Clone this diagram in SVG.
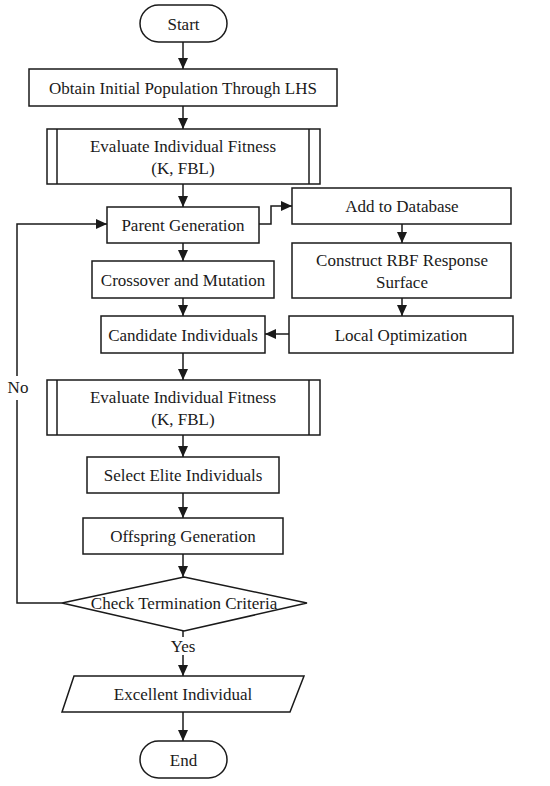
<svg xmlns="http://www.w3.org/2000/svg" width="550" height="786" viewBox="0 0 550 786">
<defs>
<marker id="arr" markerUnits="userSpaceOnUse" markerWidth="12" markerHeight="10" refX="11" refY="5" orient="auto">
<path d="M0,0 L11,5 L0,10 Z" fill="#1a1a1a"/>
</marker>
<style>
.n{fill:#fff;stroke:#1a1a1a;stroke-width:1.5}
.t{font-family:"Liberation Serif","Times New Roman",serif;font-size:17px;fill:#1a1a1a;text-anchor:middle}
.c{fill:none;stroke:#1a1a1a;stroke-width:1.5}
.c line,.c path{marker-end:url(#arr)}
</style>
</defs>
<rect width="550" height="786" fill="#fff"/>
<g id="connectors" class="c">
<line x1="183" y1="42" x2="183" y2="69"/>
<line x1="183" y1="106" x2="183" y2="129"/>
<line x1="183" y1="184" x2="183" y2="207"/>
<line x1="183" y1="243" x2="183" y2="261"/>
<line x1="183" y1="298" x2="183" y2="316"/>
<line x1="183" y1="353" x2="183" y2="380"/>
<line x1="183" y1="435" x2="183" y2="457"/>
<line x1="183" y1="493" x2="183" y2="518"/>
<line x1="183" y1="554" x2="183" y2="577"/>
<line x1="183" y1="631" x2="183" y2="676"/>
<line x1="183" y1="712" x2="183" y2="741"/>
<path d="M259,224 H271 V206 H292"/>
<line x1="402" y1="224" x2="402" y2="243"/>
<line x1="402" y1="298" x2="402" y2="316"/>
<line x1="289" y1="334" x2="265" y2="334"/>
<path d="M62,603 H17 V224 H107"/>
<rect x="5" y="376" width="25" height="24" fill="#fff" stroke="none"/>
<rect x="168" y="637" width="30" height="18" fill="#fff" stroke="none"/>
</g>
<g id="start"><rect class="n" x="140" y="5" width="87" height="37" rx="18.5"/><text class="t" x="183.5" y="29.5">Start</text></g>
<g id="obtain"><rect class="n" x="29" y="69" width="308" height="37"/><text class="t" x="183" y="93.5">Obtain Initial Population Through LHS</text></g>
<g id="eval1"><rect class="n" x="47" y="129" width="273" height="55"/><line class="n" x1="57" y1="129" x2="57" y2="184"/><line class="n" x1="309" y1="129" x2="309" y2="184"/><text class="t" x="183" y="152">Evaluate Individual Fitness</text><text class="t" x="183" y="174">(K, FBL)</text></g>
<g id="parent"><rect class="n" x="107" y="207" width="152" height="36"/><text class="t" x="183" y="231">Parent Generation</text></g>
<g id="add"><rect class="n" x="292" y="188" width="219" height="36"/><text class="t" x="402" y="212">Add to Database</text></g>
<g id="construct"><rect class="n" x="292" y="243" width="219" height="55"/><text class="t" x="402" y="266">Construct RBF Response</text><text class="t" x="402" y="288">Surface</text></g>
<g id="crossover"><rect class="n" x="92" y="261" width="182" height="37"/><text class="t" x="183" y="285.5">Crossover and Mutation</text></g>
<g id="candidate"><rect class="n" x="101" y="316" width="164" height="37"/><text class="t" x="183" y="340.5">Candidate Individuals</text></g>
<g id="local"><rect class="n" x="289" y="316" width="224" height="37"/><text class="t" x="401" y="340.5">Local Optimization</text></g>
<g id="eval2"><rect class="n" x="47" y="380" width="273" height="55"/><line class="n" x1="57" y1="380" x2="57" y2="435"/><line class="n" x1="309" y1="380" x2="309" y2="435"/><text class="t" x="183" y="403">Evaluate Individual Fitness</text><text class="t" x="183" y="425">(K, FBL)</text></g>
<g id="select"><rect class="n" x="87" y="457" width="192" height="36"/><text class="t" x="183" y="481">Select Elite Individuals</text></g>
<g id="offspring"><rect class="n" x="83" y="518" width="200" height="36"/><text class="t" x="183" y="542">Offspring Generation</text></g>
<g id="check"><polygon class="n" points="184,577 307,603 184,631 62,603"/><text class="t" x="184" y="609">Check Termination Criteria</text></g>
<g id="excellent"><polygon class="n" points="74,676 304,676 290,712 62,712"/><text class="t" x="183" y="700">Excellent Individual</text></g>
<g id="end"><rect class="n" x="140" y="741" width="87" height="37" rx="18.5"/><text class="t" x="183.5" y="765.5">End</text></g>
<g id="labels"><text class="t" x="18" y="393">No</text><text class="t" x="183" y="652">Yes</text></g>
</svg>
